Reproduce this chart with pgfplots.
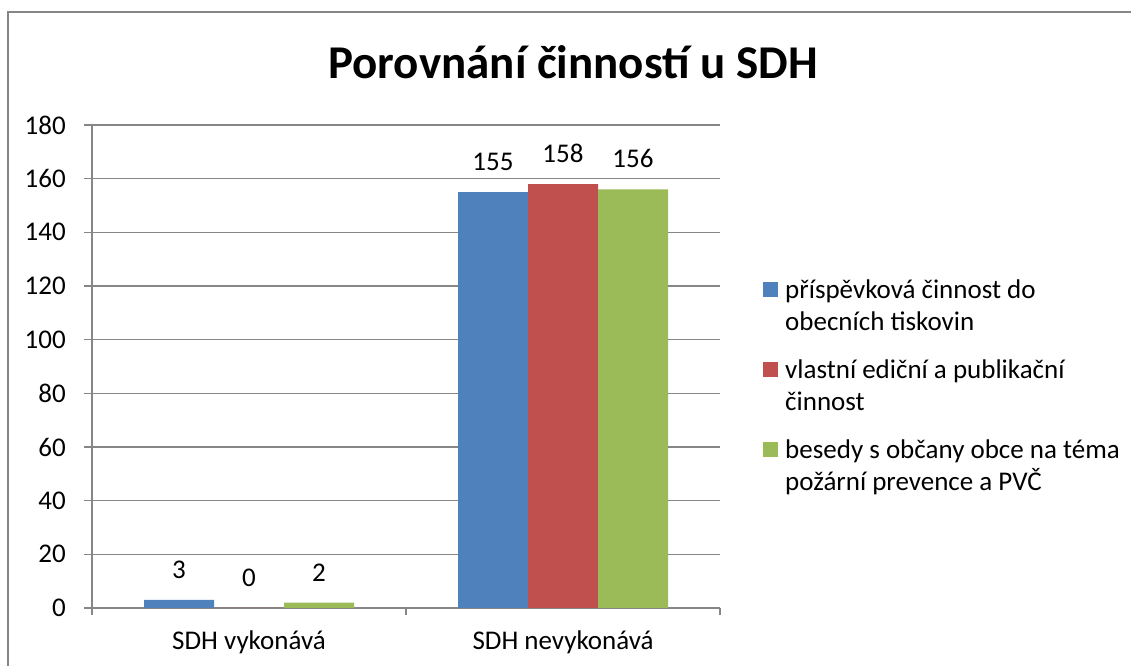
\documentclass[border=0pt]{standalone}
\usepackage{pgfplots}
\pgfplotsset{compat=1.18}
\usepackage{fontspec}
\setmainfont{Carlito}
\definecolor{cblue}{RGB}{79,129,189}
\definecolor{cred}{RGB}{192,80,77}
\definecolor{cgreen}{RGB}{155,187,89}
\definecolor{cgrid}{RGB}{134,134,134}
\newcommand{\f}{\fontsize{27bp}{32bp}\selectfont}
\begin{document}
\begin{tikzpicture}[x=1bp,y=1bp]
\path[use as bounding box] (0,0) rectangle (1131,666);
\draw[cgrid, line width=1.5bp] (8,0) -- (8,654) -- (1131,654);
\node[font=\fontsize{47bp}{56bp}\selectfont\bfseries, anchor=base, inner sep=0pt] at (573,587) {Porovnání činností u SDH};
\begin{axis}[
  at={(92bp,58bp)}, anchor=south west,
  scale only axis, width=628bp, height=483bp,
  xmin=-0.5, xmax=1.5, ymin=0, ymax=180,
  ytick distance=20,
  xtick={0,1}, xticklabels={SDH vykonává, SDH nevykonává},
  minor xtick={-0.5,0.5,1.5},
  axis x line*=bottom, axis y line*=left,
  axis line style={cgrid, line width=1.3bp, -},
  every major x tick/.style={draw=none},
  major tick length=8bp, minor tick length=7bp,
  tick align=outside,
  tick style={cgrid, line width=1.3bp},
  ymajorgrids, grid style={cgrid, line width=1.3bp},
  ticklabel style={font=\f, text=black},
  yticklabel style={inner sep=0pt, xshift=-18bp},
  xticklabel style={inner sep=0pt, anchor=base, yshift=-34bp},
  /pgf/number format/assume math mode=true,
  ybar=0pt, bar width=70bp,
  nodes near coords,
  nodes near coords style={font=\f, text=black, anchor=south, inner sep=0pt, yshift=21bp},
  legend style={draw=none, fill=none, at={(1.0685,0.681)}, anchor=north west,
    inner sep=0pt, font=\f, row sep=28bp, nodes={align=left, inner sep=0pt},
    /tikz/every odd column/.append style={column sep=7bp}},
  legend cell align=left,
  legend image code/.code={\fill[#1, draw=none] (0bp,8.5bp) rectangle (15bp,23.5bp);},
]
\addplot[fill=cblue, draw=none] coordinates {(0,3) (1,155)};
\addplot[fill=cred, draw=none] coordinates {(0,0) (1,158)};
\addplot[fill=cgreen, draw=none] coordinates {(0,2) (1,156)};
\addlegendentry{příspěvková činnost do\\obecních tiskovin}
\addlegendentry{vlastní ediční a publikační\\činnost}
\addlegendentry{besedy s občany obce na téma\\požární prevence a PVČ}
\end{axis}
\end{tikzpicture}
\end{document}
